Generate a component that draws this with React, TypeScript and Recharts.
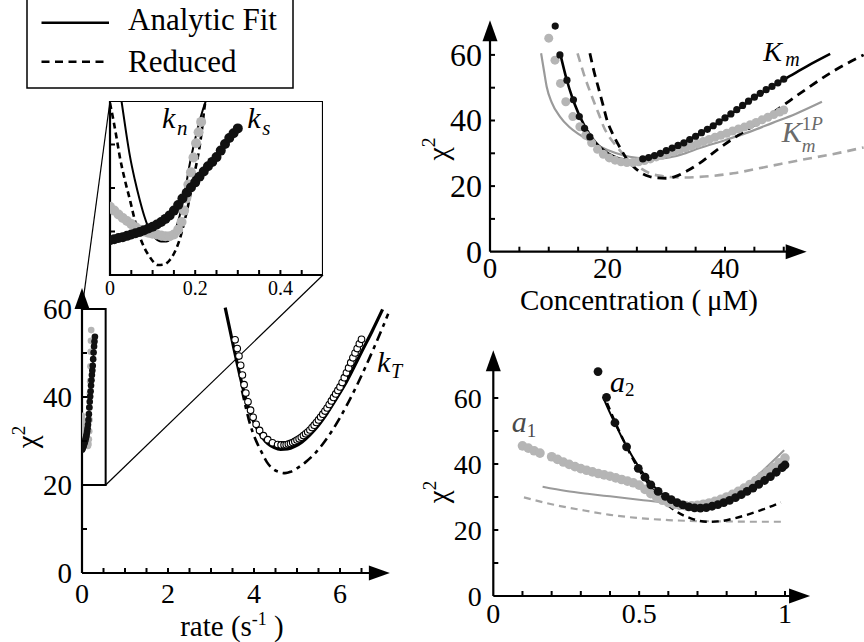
import React from 'react';
import {
  ComposedChart,
  XAxis,
  YAxis,
  Line,
  Scatter,
  ReferenceLine,
  ReferenceArea,
  ReferenceDot,
  Legend,
} from 'recharts';

const SERIF = "'Liberation Serif', 'DejaVu Serif', serif";
const INK = '#000';
const GRAY_DOT = '#b5b5b5';
const GRAY_LINE = '#9a9a9a';
const GRAY_DASH = '#a6a6a6';

type Pair = [number, number];

// ---------- rate panel: total rate k_T (open circles, fit, reduced) ----------
const K_T_SAMPLES: Pair[] = [
  [3.56, 53.0], [3.61, 51.0], [3.65, 49.3], [3.69, 47.2], [3.73, 45.0], [3.77, 42.8],
  [3.81, 40.9], [3.86, 38.9], [3.92, 37.0], [3.98, 35.4], [4.05, 33.8], [4.13, 32.4],
  [4.22, 31.2], [4.32, 30.3], [4.43, 29.6], [4.55, 29.2], [4.63, 29.1], [4.7, 29.1],
  [4.75, 29.15], [4.8, 29.3], [4.85, 29.45], [4.9, 29.65], [4.95, 29.9], [5.0, 30.2],
  [5.05, 30.5], [5.1, 30.85], [5.15, 31.25], [5.2, 31.65], [5.25, 32.05], [5.3, 32.5],
  [5.35, 33.05], [5.4, 33.6], [5.45, 34.2], [5.5, 34.8], [5.55, 35.45], [5.6, 36.1],
  [5.65, 36.8], [5.7, 37.5], [5.75, 38.3], [5.8, 39.1], [5.85, 39.9], [5.9, 40.7],
  [5.95, 41.5], [6.0, 42.3], [6.05, 43.3], [6.1, 44.4], [6.15, 45.5], [6.2, 46.6],
  [6.25, 47.8], [6.3, 48.9], [6.35, 50.0], [6.4, 51.0], [6.45, 52.1], [6.5, 53.1],
];
const K_T_FIT: Pair[] = [
  [3.33, 60.3], [3.42, 56.2], [3.52, 51.6], [3.62, 47.2], [3.72, 43.0], [3.82, 39.3],
  [3.93, 36.0], [4.05, 33.2], [4.18, 31.0], [4.32, 29.4], [4.47, 28.5], [4.62, 28.1],
  [4.78, 28.2], [4.95, 28.8], [5.12, 29.8], [5.3, 31.4], [5.5, 33.6], [5.7, 36.3],
  [5.9, 39.4], [6.1, 42.6], [6.3, 46.3], [6.5, 50.2], [6.75, 55.0], [6.99, 59.9],
];
const K_T_REDUCED: Pair[] = [
  [3.72, 41.5], [3.8, 38.0], [3.88, 34.8], [3.97, 32.0], [4.06, 29.8], [4.17, 27.6],
  [4.3, 25.2], [4.45, 23.6], [4.6, 22.9], [4.72, 22.7], [4.85, 23.0], [5.0, 23.8],
  [5.2, 25.2], [5.4, 27.0], [5.6, 29.3], [5.8, 32.1], [6.0, 35.3], [6.2, 38.9],
  [6.4, 42.8], [6.6, 47.0], [6.8, 51.4], [7.0, 56.0], [7.12, 58.9],
];

// ---------- slow rates k_n (gray) and k_s (black) ----------
const K_N_SAMPLES: Pair[] = [
  [0.0, 35.7], [0.01, 34.8], [0.02, 33.9], [0.03, 33.1], [0.04, 32.4], [0.05, 31.7],
  [0.06, 31.0], [0.07, 30.4], [0.08, 30.0], [0.09, 29.7], [0.1, 29.5], [0.11, 29.3],
  [0.12, 29.1], [0.13, 28.9], [0.14, 28.9], [0.15, 29.3], [0.16, 30.4], [0.168, 32.2],
  [0.174, 34.8], [0.179, 37.6], [0.184, 40.8], [0.19, 43.6], [0.196, 47.0], [0.202, 50.3],
  [0.208, 52.8], [0.214, 55.2],
];
const K_S_SAMPLES: Pair[] = [
  [0.0, 28.0], [0.01, 28.2], [0.02, 28.5], [0.03, 28.7], [0.04, 29.0], [0.05, 29.3],
  [0.06, 29.6], [0.07, 29.9], [0.08, 30.3], [0.09, 30.7], [0.1, 31.1], [0.11, 31.6],
  [0.12, 32.2], [0.13, 32.9], [0.14, 33.7], [0.15, 34.8], [0.16, 36.1], [0.17, 37.6],
  [0.18, 38.9], [0.19, 40.1], [0.2, 41.3], [0.21, 42.6], [0.22, 43.8], [0.23, 45.0],
  [0.24, 46.0], [0.25, 47.1], [0.26, 48.6], [0.27, 50.1], [0.28, 51.5], [0.29, 52.6],
  [0.3, 53.7],
];
const K_N_FIT: Pair[] = [
  [0.027, 60.0], [0.037, 53.3], [0.047, 47.2], [0.058, 42.0], [0.07, 37.2], [0.081, 33.4],
  [0.093, 30.3], [0.106, 28.5], [0.12, 27.7], [0.132, 27.7], [0.143, 28.4], [0.153, 30.3],
  [0.163, 33.4], [0.175, 38.6], [0.186, 44.9], [0.198, 50.4], [0.209, 54.9], [0.218, 58.0],
  [0.225, 60.0],
];
const K_N_REDUCED: Pair[] = [
  [0.0, 59.5], [0.008, 55.6], [0.016, 51.2], [0.023, 47.2], [0.035, 41.8], [0.047, 37.2],
  [0.058, 32.7], [0.07, 28.8], [0.081, 26.2], [0.093, 24.2], [0.103, 22.9], [0.112, 22.3],
  [0.126, 22.4], [0.14, 23.4], [0.152, 25.3], [0.163, 28.0], [0.175, 32.4], [0.186, 37.2],
  [0.198, 43.2], [0.209, 48.7], [0.216, 53.5], [0.221, 57.9], [0.224, 60.0],
];

// ---------- concentration panel: K_m (black) and K_m^1P (gray) ----------
const KM_SAMPLES: Pair[] = [
  [11.1, 68.8], [11.9, 60.0], [13.1, 52.3], [14.2, 46.3], [15.2, 41.2], [16.1, 37.6],
  [17.0, 35.0], [26, 28.3], [27, 28.7], [28, 29.3], [29, 30.0], [30, 30.8], [31, 31.6],
  [32, 32.4], [33, 33.2], [34, 34.2], [35, 35.2], [36, 36.3], [37, 37.3], [38, 38.4],
  [39, 39.6], [40, 40.8], [41, 42.0], [42, 43.3], [43, 44.6], [44, 45.9], [45, 47.1],
  [46, 48.3], [47, 49.4], [48, 50.4], [49, 51.5], [50, 52.6],
];
const KM_FIT: Pair[] = [
  [12.0, 60.0], [13.0, 52.8], [14.0, 47.0], [15.0, 42.4], [16.0, 38.7], [17.0, 35.7],
  [18.0, 33.3], [19.0, 31.5], [20.0, 30.1], [21.0, 29.1], [22.0, 28.4], [23.0, 28.0],
  [24.0, 27.8], [25.0, 27.8], [26.0, 28.1], [28.0, 29.2], [30.0, 30.8], [33.0, 33.3],
  [36.0, 36.3], [39.0, 39.6], [42.0, 43.2], [45.0, 47.0], [48.0, 50.4], [51.0, 53.5],
  [54.0, 56.6], [57.9, 60.3],
];
const KM_REDUCED: Pair[] = [
  [17.0, 60.5], [17.7, 55.0], [18.4, 50.3], [19.2, 45.0], [19.9, 40.2], [21.0, 35.5],
  [22.2, 31.5], [23.3, 28.2], [24.4, 26.0], [25.6, 24.2], [27.0, 23.0], [28.4, 22.5],
  [30.0, 22.4], [31.5, 22.9], [33.5, 24.6], [35.7, 27.0], [38.6, 31.0], [41.4, 34.5],
  [44.3, 37.8], [48.0, 42.2], [51.0, 46.0], [54.0, 49.8], [58.4, 55.0], [63.6, 60.0],
];
const KM1P_SAMPLES: Pair[] = [
  [10.0, 65.1], [11.06, 58.4], [12.0, 51.3], [12.9, 45.7], [14.1, 41.2], [15.3, 38.1],
  [16.3, 35.5], [17.3, 33.2], [18.3, 31.2], [19.3, 29.7], [20.3, 28.6], [21.3, 27.9],
  [22.3, 27.4], [23.3, 27.2], [24.3, 27.2], [25.3, 27.4], [26.3, 27.8], [27.3, 28.3],
  [28.3, 28.9], [29.3, 29.4], [30.3, 30.0], [31.3, 30.5], [32.3, 31.1], [33.3, 31.7],
  [34.3, 32.3], [35.3, 32.9], [36.3, 33.6], [37.3, 34.2], [38.3, 34.9], [39.3, 35.5],
  [40.3, 36.1], [41.3, 36.8], [42.3, 37.4], [43.3, 38.0], [44.3, 38.7], [45.3, 39.4],
  [46.3, 40.2], [47.3, 41.0], [48.3, 41.8], [49.3, 42.6], [50.0, 43.2],
];
const KM1P_FIT: Pair[] = [
  [8.7, 60.5], [9.2, 55.0], [9.65, 50.3], [10.5, 45.5], [11.9, 41.2], [13.5, 38.0],
  [15.3, 35.6], [17.5, 33.2], [20.0, 31.0], [22.5, 29.5], [25.0, 28.6], [27.5, 28.3],
  [30.0, 28.6], [32.5, 29.6], [35.7, 31.6], [40.0, 34.0], [44.3, 36.6], [48.0, 39.2],
  [52.0, 42.0], [56.5, 45.7],
];
const KM1P_REDUCED: Pair[] = [
  [14.9, 60.5], [16.0, 54.0], [17.2, 48.0], [18.4, 42.5], [19.5, 37.5], [20.5, 34.5],
  [21.6, 32.0], [22.8, 29.5], [24.1, 27.4], [25.6, 25.5], [27.2, 23.9], [29.5, 23.0],
  [32.3, 22.6], [35.7, 22.8], [41.4, 23.9], [47.1, 25.9], [53.0, 28.0], [59.6, 30.2],
  [63.6, 31.8],
];

// ---------- fraction panel: a_1 (gray) and a_2 (black) ----------
const A1_SAMPLES: Pair[] = [
  [0.1, 45.5], [0.12, 44.8], [0.14, 44.0], [0.16, 43.3], [0.2, 42.2], [0.22, 41.4],
  [0.24, 40.6], [0.26, 39.9], [0.28, 39.2], [0.3, 38.6], [0.32, 38.1], [0.34, 37.6],
  [0.36, 37.1], [0.38, 36.7], [0.4, 36.3], [0.42, 35.8], [0.44, 35.3], [0.46, 34.8],
  [0.48, 34.3], [0.5, 33.6], [0.52, 32.3], [0.54, 31.0], [0.56, 29.9], [0.58, 29.0],
  [0.6, 28.3], [0.62, 27.8], [0.64, 27.5], [0.66, 27.3], [0.68, 27.3], [0.7, 27.5],
  [0.72, 27.8], [0.74, 28.2], [0.76, 28.7], [0.78, 29.3], [0.8, 30.0], [0.82, 30.8],
  [0.84, 31.7], [0.86, 32.7], [0.88, 33.8], [0.9, 35.0], [0.92, 36.3], [0.94, 37.6],
  [0.96, 39.0], [0.98, 40.4], [1.0, 41.8],
];
const A1_FIT: Pair[] = [
  [0.169, 33.1], [0.25, 31.8], [0.33, 30.9], [0.4, 30.2], [0.5, 29.2], [0.6, 28.2],
  [0.68, 27.8], [0.75, 28.6], [0.8, 30.0], [0.86, 33.0], [0.93, 38.5], [0.997, 44.2],
];
const A1_REDUCED: Pair[] = [
  [0.105, 29.9], [0.2, 27.8], [0.3, 26.1], [0.4, 24.6], [0.5, 23.6], [0.6, 23.0],
  [0.7, 22.7], [0.8, 22.6], [0.9, 22.5], [0.986, 22.5],
];
const A2_SAMPLES: Pair[] = [
  [0.359, 68.0], [0.388, 60.2], [0.417, 52.5], [0.457, 45.2], [0.497, 38.7], [0.52, 36.0],
  [0.54, 33.7], [0.565, 31.7], [0.59, 30.2], [0.61, 29.2], [0.63, 28.3], [0.65, 27.6],
  [0.67, 27.0], [0.69, 26.7], [0.71, 26.6], [0.73, 26.8], [0.75, 27.2], [0.77, 27.7],
  [0.79, 28.3], [0.81, 29.0], [0.83, 29.8], [0.85, 30.7], [0.87, 31.7], [0.89, 32.7],
  [0.91, 33.8], [0.93, 35.0], [0.95, 36.2], [0.97, 37.5], [0.99, 38.9], [1.0, 39.7],
];
const A2_FIT: Pair[] = [
  [0.38, 59.5], [0.4, 55.5], [0.417, 52.3], [0.44, 48.2], [0.457, 45.4], [0.48, 41.8],
  [0.5, 39.0], [0.525, 35.9], [0.55, 33.3], [0.575, 31.2], [0.6, 29.5], [0.625, 28.3],
  [0.65, 27.5], [0.675, 27.0], [0.7, 26.8], [0.725, 26.9], [0.75, 27.3], [0.775, 27.9],
  [0.8, 28.8], [0.825, 29.8], [0.85, 31.0], [0.875, 32.3], [0.9, 33.8], [0.925, 35.4],
  [0.95, 37.0], [0.975, 38.8], [1.0, 40.7],
];
const A2_REDUCED: Pair[] = [
  [0.39, 58.5], [0.42, 52.2], [0.45, 46.5], [0.475, 42.1], [0.5, 38.2], [0.525, 34.8],
  [0.55, 31.8], [0.575, 29.4], [0.6, 27.4], [0.625, 25.8], [0.65, 24.5], [0.675, 23.6],
  [0.7, 22.9], [0.73, 22.5], [0.77, 22.6], [0.82, 23.4], [0.88, 24.9], [0.93, 26.4],
  [0.986, 28.4],
];

// ---------- ticks ----------
const RATE_X_TICKS = [0, 0.5, 1, 1.5, 2, 2.5, 3, 3.5, 4, 4.5, 5, 5.5, 6, 6.5];
const RATE_X_LABELS = [0, 2, 4, 6];
const CHI2_TICKS = [0, 10, 20, 30, 40, 50, 60];
const CHI2_LABELS = [0, 20, 40, 60];
const ZOOM_X_TICKS = [0, 0.05, 0.1, 0.15, 0.2, 0.25, 0.3, 0.35, 0.4, 0.45];
const ZOOM_X_LABELS = [0, 0.2, 0.4];
const ZOOM_Y_TICKS = [30, 40, 50];
const CONC_X_TICKS = [0, 5, 10, 15, 20, 25, 30, 35, 40, 45, 50];
const CONC_X_LABELS = [0, 20, 40];
const FRAC_X_TICKS = [0, 0.1, 0.2, 0.3, 0.4, 0.5, 0.6, 0.7, 0.8, 0.9, 1];
const FRAC_X_LABELS = [0, 0.5, 1];

const LEGEND_ITEMS = [
  { name: 'Analytic Fit', dash: undefined as string | undefined },
  { name: 'Reduced', dash: '8 5.5' },
];

const pts = (a: Pair[]) => a.map(([x, y]) => ({ x, y }));

// ---------- panel geometry (page pixels) ----------
type PanelBox = {
  left: number; top: number; width: number; height: number;
  originX: number; originY: number; pxPerX: number; pxPerY: number;
  xMin: number; yMin: number;
};

const RATE: PanelBox = { left: 0, top: 0, width: 426, height: 642, originX: 82, originY: 573, pxPerX: 43, pxPerY: 4.4, xMin: 0, yMin: 0 };
const ZOOM: PanelBox = { left: 100, top: 101, width: 223, height: 204, originX: 110, originY: 275, pxPerX: 426, pxPerY: 4.35, xMin: 0, yMin: 20 };
const CONC: PanelBox = { left: 410, top: 0, width: 454, height: 320, originX: 490, originY: 251.7, pxPerX: 5.875, pxPerY: 3.28, xMin: 0, yMin: 0 };
const FRAC: PanelBox = { left: 410, top: 330, width: 420, height: 312, originX: 493.3, originY: 596, pxPerX: 291.7, pxPerY: 3.3, xMin: 0, yMin: 0 };

const frame = (p: PanelBox) => ({
  yAxisWidth: p.originX - p.left,
  xAxisHeight: p.top + p.height - p.originY,
  xDomain: [p.xMin, p.xMin + (p.left + p.width - p.originX) / p.pxPerX] as [number, number],
  yDomain: [p.yMin, p.yMin + (p.originY - p.top) / p.pxPerY] as [number, number],
});
const toData = (p: PanelBox, px: number, py: number) => ({
  x: p.xMin + (px - p.originX) / p.pxPerX,
  y: p.yMin + (p.originY - py) / p.pxPerY,
});
const boxStyle = (p: PanelBox): React.CSSProperties => ({
  position: 'absolute', left: p.left, top: p.top, width: p.width, height: p.height,
});
const NO_MARGIN = { top: 0, right: 0, bottom: 0, left: 0 };
const TXT: React.CSSProperties = { fontFamily: SERIF };

// ---------- shared renderers ----------
const isIn = (list: number[], v: number) => list.some((l) => Math.abs(l - v) < 1e-9);

type TickCfg = { labels: number[]; fontSize: number; gap: number; len: number; skip?: number[] };

const xTick = (cfg: TickCfg) => (props: any) => {
  const { x, y, payload } = props;
  const v = payload.value as number;
  return (
    <g>
      {!isIn(cfg.skip ?? [0], v) && (
        <line x1={x} y1={y} x2={x} y2={y - cfg.len} stroke={INK} strokeWidth={2} />
      )}
      {isIn(cfg.labels, v) && (
        <text x={x} y={y + cfg.gap} textAnchor="middle" style={TXT} fontSize={cfg.fontSize} fill={INK}>
          {String(v)}
        </text>
      )}
    </g>
  );
};

const yTick = (cfg: TickCfg) => (props: any) => {
  const { x, y, payload } = props;
  const v = payload.value as number;
  return (
    <g>
      {!isIn(cfg.skip ?? [0], v) && (
        <line x1={x} y1={y} x2={x + cfg.len} y2={y} stroke={INK} strokeWidth={2} />
      )}
      {isIn(cfg.labels, v) && (
        <text x={x - cfg.gap} y={y + cfg.fontSize * 0.34} textAnchor="end" style={TXT} fontSize={cfg.fontSize} fill={INK}>
          {String(v)}
        </text>
      )}
    </g>
  );
};

const arrowShape = (props: any) => {
  const { x1, y1, x2, y2 } = props;
  const dx = x2 - x1;
  const dy = y2 - y1;
  const L = Math.hypot(dx, dy) || 1;
  const ux = dx / L;
  const uy = dy / L;
  const head = 21;
  const half = 7.5;
  const bx = x2 - ux * head;
  const by = y2 - uy * head;
  return (
    <g>
      <line x1={x1} y1={y1} x2={bx + ux * 2} y2={by + uy * 2} stroke={INK} strokeWidth={2.2} />
      <polygon
        points={`${x2},${y2} ${bx - uy * half},${by + ux * half} ${bx + uy * half},${by - ux * half}`}
        fill={INK}
      />
    </g>
  );
};

const dotShape = (r: number, fill: string, stroke = 'none', sw = 0) => (p: any) =>
  <circle cx={p.cx} cy={p.cy} r={r} fill={fill} stroke={stroke} strokeWidth={sw} />;

type MathSpec = {
  base: string; size: number; color: string; advance: number;
  sub?: string; subItalic?: boolean; subDy?: number; subSize?: number;
  sup?: React.ReactNode; supDy?: number;
};

const mathLabel = (m: MathSpec) => (p: any) => {
  const small = m.subSize ?? m.size * 0.68;
  return (
    <g fill={m.color}>
      <text x={p.cx} y={p.cy} style={TXT} fontSize={m.size} fontStyle="italic">{m.base}</text>
      {m.sup && (
        <text x={p.cx + m.advance} y={p.cy + (m.supDy ?? -m.size * 0.33)} style={TXT} fontSize={small}>{m.sup}</text>
      )}
      {m.sub && (
        <text x={p.cx + m.advance} y={p.cy + (m.subDy ?? m.size * 0.22)} style={TXT} fontSize={small} fontStyle={m.subItalic ? 'italic' : 'normal'}>
          {m.sub}
        </text>
      )}
    </g>
  );
};

const Chi2 = ({ cx, cy, size }: { cx: number; cy: number; size: number }) => (
  <text transform={`rotate(-90 ${cx} ${cy})`} x={cx} y={cy} textAnchor="middle" style={TXT} fontSize={size} fill={INK}>
    χ<tspan dy={-size * 0.42} fontSize={size * 0.66}>2</tspan>
  </text>
);

const LegendBox = () => (
  <svg width={300} height={92} style={{ display: 'block' }}>
    <rect x={27} y={-3} width={266} height={91} fill="#fff" stroke={INK} strokeWidth={1.5} />
    {LEGEND_ITEMS.map((item, i) => (
      <g key={item.name}>
        <line x1={41.5} x2={109} y1={22.7 + i * 39} y2={22.7 + i * 39} stroke={INK} strokeWidth={2.4} strokeDasharray={item.dash} />
        <text x={128} y={30 + i * 42} style={TXT} fontSize={31} fill={INK}>{item.name}</text>
      </g>
    ))}
  </svg>
);

// ---------- rate panel ----------
function RatePanel() {
  const g = frame(RATE);
  const zoomTopLeft = toData(RATE, ZOOM.originX, ZOOM.top);
  const zoomBottomRight = toData(RATE, ZOOM.left + ZOOM.width, ZOOM.originY);
  return (
    <div style={boxStyle(RATE)}>
      <ComposedChart width={RATE.width} height={RATE.height} margin={NO_MARGIN}>
        <XAxis
          type="number" dataKey="x" domain={g.xDomain} allowDataOverflow ticks={RATE_X_TICKS} interval={0}
          axisLine={false} tickLine={false} tickSize={0} tickMargin={0} height={g.xAxisHeight}
          tick={xTick({ labels: RATE_X_LABELS, fontSize: 28, gap: 30, len: 5 })}
          label={() => (
            <text x={232} y={636} textAnchor="middle" style={TXT} fontSize={29} fill={INK}>
              rate (s<tspan dy={-11} fontSize={18}>-1</tspan><tspan dy={11}> )</tspan>
            </text>
          )}
        />
        <YAxis
          type="number" dataKey="y" domain={g.yDomain} allowDataOverflow ticks={CHI2_TICKS} interval={0}
          axisLine={false} tickLine={false} tickSize={0} tickMargin={0} width={g.yAxisWidth}
          tick={yTick({ labels: CHI2_LABELS, fontSize: 29, gap: 10, len: 5 })}
          label={() => <Chi2 cx={37} cy={437} size={29} />}
        />
        <ReferenceLine segment={[{ x: 0, y: 0 }, { x: 7.16, y: 0 }]} shape={arrowShape} ifOverflow="visible" />
        <ReferenceLine segment={[{ x: 0, y: 0 }, { x: 0, y: 64.8 }]} shape={arrowShape} ifOverflow="visible" />

        <Scatter data={pts(K_N_SAMPLES)} dataKey="y" shape={dotShape(3.3, GRAY_DOT)} isAnimationActive={false} />
        <Line data={pts(K_S_SAMPLES)} dataKey="y" type="linear" stroke={INK} strokeWidth={1.5} dot={false} activeDot={false} isAnimationActive={false} />
        <Scatter data={pts(K_S_SAMPLES)} dataKey="y" shape={dotShape(3.3, '#111')} isAnimationActive={false} />

        <Line data={pts(K_T_REDUCED)} dataKey="y" type="monotone" stroke={INK} strokeWidth={2.6} strokeDasharray="10 5 4 5" dot={false} activeDot={false} isAnimationActive={false} />
        <Line data={pts(K_T_FIT)} dataKey="y" type="monotone" stroke={INK} strokeWidth={3.2} dot={false} activeDot={false} isAnimationActive={false} />
        <Scatter data={pts(K_T_SAMPLES)} dataKey="y" shape={dotShape(3.3, '#fff', INK, 1.1)} isAnimationActive={false} />

        <ReferenceArea x1={0} x2={0.55} y1={20} y2={60} fill="none" stroke={INK} strokeWidth={2} ifOverflow="visible" />
        <ReferenceLine segment={[{ x: 0, y: 60 }, zoomTopLeft]} stroke={INK} strokeWidth={1.2} ifOverflow="visible" />
        <ReferenceLine segment={[{ x: 0.55, y: 20 }, zoomBottomRight]} stroke={INK} strokeWidth={1.2} ifOverflow="visible" />

        <ReferenceDot x={6.86} y={45.7} r={0} ifOverflow="visible"
          shape={mathLabel({ base: 'k', size: 30, color: INK, advance: 14, sub: 'T', subItalic: true, subDy: 6, subSize: 20 })} />

        <Legend layout="horizontal" verticalAlign="middle" align="center"
          wrapperStyle={{ left: 0, top: 0, width: 300, height: 92 }} content={() => <LegendBox />} />
      </ComposedChart>
    </div>
  );
}

// ---------- zoom of the slow rates ----------
function ZoomPanel() {
  const g = frame(ZOOM);
  return (
    <div style={boxStyle(ZOOM)}>
      <ComposedChart width={ZOOM.width} height={ZOOM.height} margin={NO_MARGIN}>
        <XAxis
          type="number" dataKey="x" domain={g.xDomain} allowDataOverflow ticks={ZOOM_X_TICKS} interval={0}
          axisLine={false} tickLine={false} tickSize={0} tickMargin={0} height={g.xAxisHeight}
          tick={xTick({ labels: ZOOM_X_LABELS, fontSize: 20, gap: 20, len: 5 })}
        />
        <YAxis
          type="number" dataKey="y" domain={g.yDomain} allowDataOverflow ticks={ZOOM_Y_TICKS} interval={0}
          axisLine={false} tickLine={false} tickSize={0} tickMargin={0} width={g.yAxisWidth}
          tick={yTick({ labels: [], fontSize: 20, gap: 6, len: 5, skip: [] })}
        />
        <Scatter data={pts(K_N_SAMPLES)} dataKey="y" shape={dotShape(5, GRAY_DOT)} isAnimationActive={false} />
        <Scatter data={pts(K_S_SAMPLES)} dataKey="y" shape={dotShape(5, '#111')} isAnimationActive={false} />
        <Line data={pts(K_N_FIT)} dataKey="y" type="monotone" stroke={INK} strokeWidth={2} dot={false} activeDot={false} isAnimationActive={false} />
        <Line data={pts(K_N_REDUCED)} dataKey="y" type="monotone" stroke={INK} strokeWidth={2.6} strokeDasharray="6 4" dot={false} activeDot={false} isAnimationActive={false} />
        <ReferenceArea x1={0} x2={0.5} y1={20} y2={60} fill="none" stroke={INK} strokeWidth={2.2} ifOverflow="visible" />
        <ReferenceDot x={0.122} y={53.8} r={0} ifOverflow="visible"
          shape={mathLabel({ base: 'k', size: 30, color: INK, advance: 15, sub: 'n', subItalic: true, subDy: 7, subSize: 21 })} />
        <ReferenceDot x={0.322} y={53.8} r={0} ifOverflow="visible"
          shape={mathLabel({ base: 'k', size: 30, color: INK, advance: 15, sub: 's', subItalic: true, subDy: 7, subSize: 21 })} />
      </ComposedChart>
    </div>
  );
}

// ---------- concentration panel ----------
function ConcentrationPanel() {
  const g = frame(CONC);
  return (
    <div style={boxStyle(CONC)}>
      <ComposedChart width={CONC.width} height={CONC.height} margin={NO_MARGIN}>
        <XAxis
          type="number" dataKey="x" domain={g.xDomain} allowDataOverflow ticks={CONC_X_TICKS} interval={0}
          axisLine={false} tickLine={false} tickSize={0} tickMargin={0} height={g.xAxisHeight}
          tick={xTick({ labels: CONC_X_LABELS, fontSize: 29, gap: 26, len: 5 })}
          label={() => (
            <text x={229} y={310} textAnchor="middle" style={TXT} fontSize={29} fill={INK}>
              Concentration ({'\u2009'}μM)
            </text>
          )}
        />
        <YAxis
          type="number" dataKey="y" domain={g.yDomain} allowDataOverflow ticks={CHI2_TICKS} interval={0}
          axisLine={false} tickLine={false} tickSize={0} tickMargin={0} width={g.yAxisWidth}
          tick={yTick({ labels: CHI2_LABELS, fontSize: 32, gap: 8, len: 5 })}
          label={() => <Chi2 cx={38} cy={149} size={30} />}
        />
        <ReferenceLine segment={[{ x: 0, y: 0 }, { x: 53.9, y: 0 }]} shape={arrowShape} ifOverflow="visible" />
        <ReferenceLine segment={[{ x: 0, y: 0 }, { x: 0, y: 70.6 }]} shape={arrowShape} ifOverflow="visible" />

        <Scatter data={pts(KM1P_SAMPLES)} dataKey="y" shape={dotShape(4.5, GRAY_DOT)} isAnimationActive={false} />
        <Scatter data={pts(KM_SAMPLES)} dataKey="y" shape={dotShape(3.6, '#111')} isAnimationActive={false} />
        <Line data={pts(KM1P_FIT)} dataKey="y" type="monotone" stroke={GRAY_LINE} strokeWidth={2.2} dot={false} activeDot={false} isAnimationActive={false} />
        <Line data={pts(KM1P_REDUCED)} dataKey="y" type="monotone" stroke={GRAY_DASH} strokeWidth={2.6} strokeDasharray="9 6" dot={false} activeDot={false} isAnimationActive={false} />
        <Line data={pts(KM_FIT)} dataKey="y" type="monotone" stroke={INK} strokeWidth={2.6} dot={false} activeDot={false} isAnimationActive={false} />
        <Line data={pts(KM_REDUCED)} dataKey="y" type="monotone" stroke={INK} strokeWidth={2.8} strokeDasharray="9 6" dot={false} activeDot={false} isAnimationActive={false} />

        <ReferenceDot x={46.5} y={58.1} r={0} ifOverflow="visible"
          shape={mathLabel({ base: 'K', size: 28, color: INK, advance: 22, sub: 'm', subItalic: true, subDy: 5, subSize: 20 })} />
        <ReferenceDot x={49.65} y={33.5} r={0} ifOverflow="visible"
          shape={mathLabel({
            base: 'K', size: 30, color: '#6a6a6a', advance: 20, sub: 'm', subItalic: true, subDy: 10, subSize: 19,
            sup: (<>1<tspan fontStyle="italic">P</tspan></>), supDy: -12,
          })} />
      </ComposedChart>
    </div>
  );
}

// ---------- fraction panel ----------
function FractionPanel() {
  const g = frame(FRAC);
  return (
    <div style={boxStyle(FRAC)}>
      <ComposedChart width={FRAC.width} height={FRAC.height} margin={NO_MARGIN}>
        <XAxis
          type="number" dataKey="x" domain={g.xDomain} allowDataOverflow ticks={FRAC_X_TICKS} interval={0}
          axisLine={false} tickLine={false} tickSize={0} tickMargin={0} height={g.xAxisHeight}
          tick={xTick({ labels: FRAC_X_LABELS, fontSize: 28, gap: 27, len: 5 })}
        />
        <YAxis
          type="number" dataKey="y" domain={g.yDomain} allowDataOverflow ticks={CHI2_TICKS} interval={0}
          axisLine={false} tickLine={false} tickSize={0} tickMargin={0} width={g.yAxisWidth}
          tick={yTick({ labels: CHI2_LABELS, fontSize: 28, gap: 11.6, len: 5 })}
          label={() => <Chi2 cx={38} cy={162} size={29} />}
        />
        <ReferenceLine segment={[{ x: 0, y: 0 }, { x: 1.086, y: 0 }]} shape={arrowShape} ifOverflow="visible" />
        <ReferenceLine segment={[{ x: 0, y: 0 }, { x: 0, y: 74.5 }]} shape={arrowShape} ifOverflow="visible" />

        <Scatter data={pts(A1_SAMPLES)} dataKey="y" shape={dotShape(4.8, GRAY_DOT)} isAnimationActive={false} />
        <Line data={pts(A1_REDUCED)} dataKey="y" type="monotone" stroke={GRAY_DASH} strokeWidth={2.2} strokeDasharray="7 5" dot={false} activeDot={false} isAnimationActive={false} />
        <Line data={pts(A1_FIT)} dataKey="y" type="monotone" stroke={GRAY_LINE} strokeWidth={2} dot={false} activeDot={false} isAnimationActive={false} />
        <Scatter data={pts(A2_SAMPLES)} dataKey="y" shape={dotShape(4.4, '#111')} isAnimationActive={false} />
        <Line data={pts(A2_FIT)} dataKey="y" type="monotone" stroke={INK} strokeWidth={2} dot={false} activeDot={false} isAnimationActive={false} />
        <Line data={pts(A2_REDUCED)} dataKey="y" type="monotone" stroke={INK} strokeWidth={2.4} strokeDasharray="7 5" dot={false} activeDot={false} isAnimationActive={false} />

        <ReferenceDot x={0.063} y={49.7} r={0} ifOverflow="visible"
          shape={mathLabel({ base: 'a', size: 30, color: '#4a4a4a', advance: 15, sub: '1', subDy: 5, subSize: 19 })} />
        <ReferenceDot x={0.4} y={61.8} r={0} ifOverflow="visible"
          shape={mathLabel({ base: 'a', size: 30, color: INK, advance: 15, sub: '2', subDy: 4, subSize: 19 })} />
      </ComposedChart>
    </div>
  );
}

export default function App() {
  return (
    <div style={{ position: 'absolute', left: 0, top: 0, width: 864, height: 642, background: '#fff', overflow: 'hidden', fontFamily: SERIF }}>
      <RatePanel />
      <ZoomPanel />
      <ConcentrationPanel />
      <FractionPanel />
    </div>
  );
}
